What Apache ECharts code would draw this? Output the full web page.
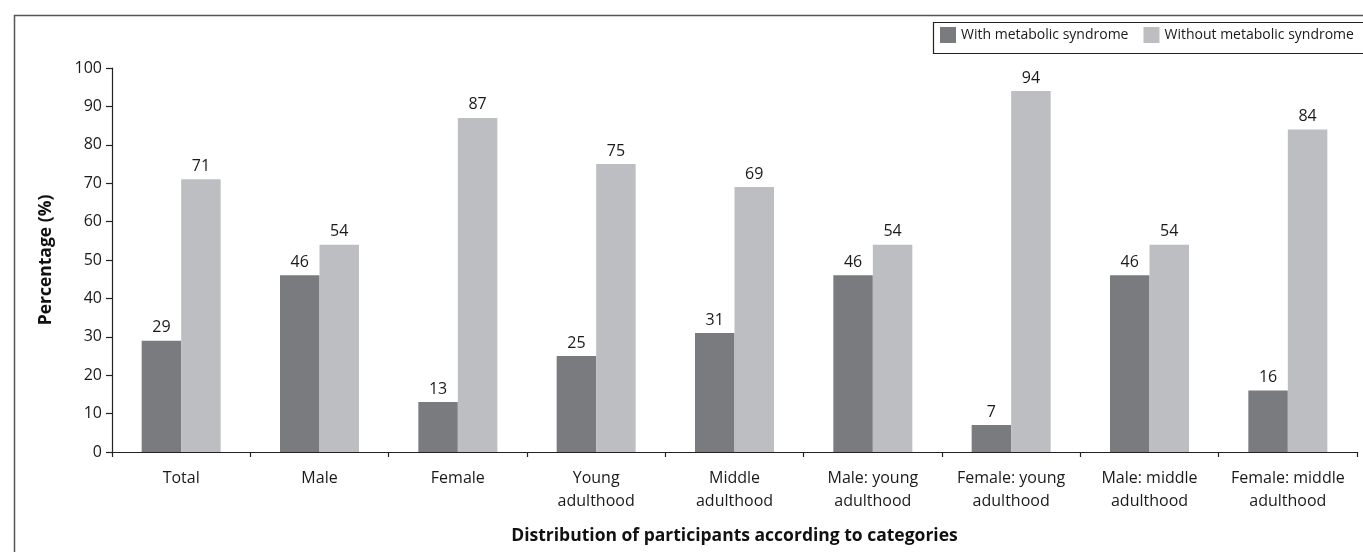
<!DOCTYPE html>
<html>
<head>
<meta charset="utf-8">
<script src="https://cdn.jsdelivr.net/npm/echarts@6/dist/echarts.min.js"></script>
<style>
  html, body { margin: 0; padding: 0; background: #fff; }
  #chart { width: 1363px; height: 552px; }
</style>
</head>
<body>
<div id="chart"></div>
<script>
// Categories of participants (two-line labels)
const categories = [
  'Total', 'Male', 'Female', 'Young\nadulthood', 'Middle\nadulthood',
  'Male: young\nadulthood', 'Female: young\nadulthood',
  'Male: middle\nadulthood', 'Female: middle\nadulthood'
];
// Percentages per category
const withMetS = [29, 46, 13, 25, 31, 46, 7, 46, 16];
const withoutMetS = [71, 54, 87, 75, 69, 54, 94, 54, 84];
const seriesNames = ['With metabolic syndrome', 'Without metabolic syndrome'];
const yTicks = { min: 0, max: 100, interval: 10 };

const FONT = 'Open Sans';
const chart = echarts.init(document.getElementById('chart'));

const labelStyle = {
  show: true,
  position: 'top',
  distance: 5,
  color: '#1a1a1a',
  fontFamily: FONT,
  fontSize: 16
};

chart.setOption({
  animation: false,
  textStyle: { fontFamily: FONT },
  graphic: [
    {
      // outer frame
      type: 'rect',
      left: 12, top: 13,
      shape: { width: 1400, height: 600 },
      style: { fill: 'none', stroke: '#555', lineWidth: 1.5 },
      silent: true
    },
    {
      // legend box
      type: 'rect',
      left: 931, top: 20,
      shape: { width: 500, height: 31 },
      style: { fill: 'none', stroke: '#222', lineWidth: 1.2 },
      silent: true
    }
  ],
  legend: {
    data: seriesNames,
    left: 940, top: 27,
    orient: 'horizontal',
    icon: 'rect',
    itemWidth: 16, itemHeight: 16,
    itemGap: 15,
    padding: 0,
    textStyle: { fontFamily: FONT, fontSize: 14, color: '#1a1a1a' },
    selectedMode: false
  },
  grid: { left: 112, right: 6, top: 68, bottom: 100, containLabel: false },
  xAxis: {
    type: 'category',
    data: categories,
    name: 'Distribution of participants according to categories',
    nameLocation: 'middle',
    nameGap: 75,
    nameTextStyle: { fontFamily: FONT, fontSize: 17.5, fontWeight: 'bold', color: '#111' },
    axisLine: { lineStyle: { color: '#222', width: 1.2 } },
    axisTick: { show: true, length: 5, lineStyle: { color: '#222', width: 1.2 } },
    axisLabel: { fontFamily: FONT, fontSize: 16, color: '#1a1a1a', margin: 15, lineHeight: 23, interval: 0 }
  },
  yAxis: {
    type: 'value',
    min: yTicks.min, max: yTicks.max, interval: yTicks.interval,
    name: 'Percentage (%)',
    nameLocation: 'middle',
    nameGap: 57,
    nameTextStyle: { fontFamily: FONT, fontSize: 17.5, fontWeight: 'bold', color: '#111' },
    axisLine: { show: true, lineStyle: { color: '#222', width: 1.2 } },
    axisTick: { show: true, length: 6, lineStyle: { color: '#222', width: 1.2 } },
    axisLabel: { fontFamily: FONT, fontSize: 16, color: '#1a1a1a', margin: 10 },
    splitLine: { show: false }
  },
  series: [
    {
      name: seriesNames[0], type: 'bar', data: withMetS,
      barWidth: 39.5, barGap: '0%',
      itemStyle: { color: '#7a7b7f' },
      label: labelStyle
    },
    {
      name: seriesNames[1], type: 'bar', data: withoutMetS,
      barWidth: 39.5, barGap: '0%',
      itemStyle: { color: '#bdbec2' },
      label: labelStyle
    }
  ]
});
</script>
</body>
</html>
